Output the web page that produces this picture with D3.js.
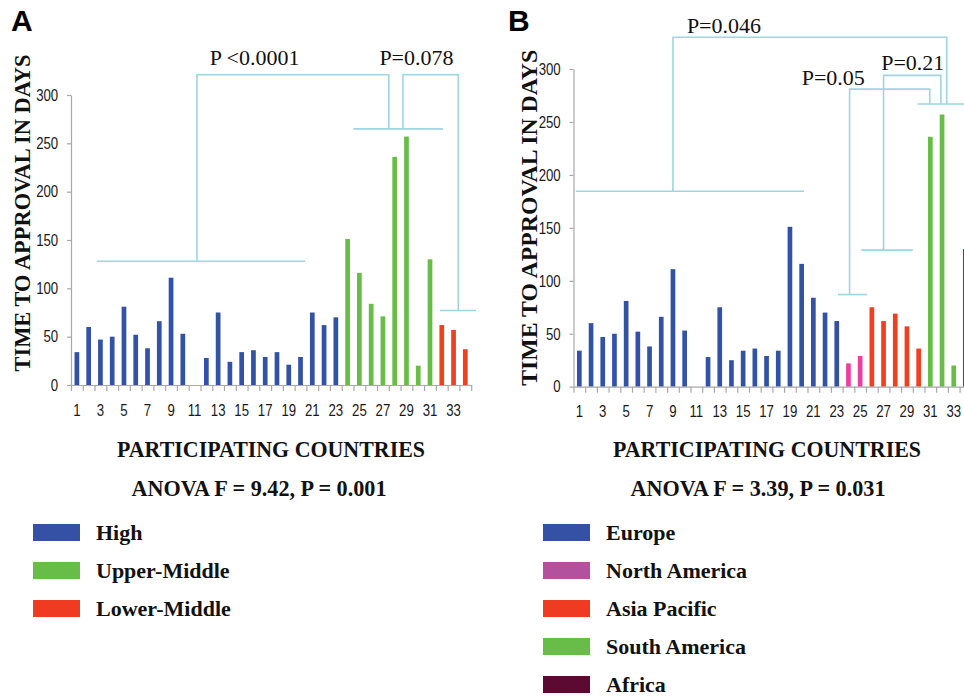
<!DOCTYPE html>
<html>
<head>
<meta charset="utf-8">
<script src="https://cdn.jsdelivr.net/npm/d3@7"></script>
<style>
  html, body { margin: 0; padding: 0; background: #fff; }
  svg { display: block; }
</style>
</head>
<body>
<svg id="chart" width="964" height="700"></svg>
<script>
// ---------------- DATA ----------------
const categories = ["1","2","3","4","5","6","7","8","9","10","11","12","13","14","15","16","17",
  "18","19","20","21","22","23","24","25","26","27","28","29","30","31","32","33","34"];
const xTickLabels = ["1","3","5","7","9","11","13","15","17","19","21","23","25","27","29","31","33"];
const yTickValues = [0, 50, 100, 150, 200, 250, 300];

// Panel A: by income group
const valuesA = [34,60,47,50,81,52,38,66,111,53,0,28,75,24,34,36,29,34,21,29,75,62,70,
  151,116,84,71,236,257,20,130,62,57,37];
const groupsA = ["High","High","High","High","High","High","High","High","High","High","High",
  "High","High","High","High","High","High","High","High","High","High","High","High",
  "Upper-Middle","Upper-Middle","Upper-Middle","Upper-Middle","Upper-Middle","Upper-Middle",
  "Upper-Middle","Upper-Middle","Lower-Middle","Lower-Middle","Lower-Middle"];
const legendA = ["High", "Upper-Middle", "Lower-Middle"];

// Panel B: by region
const valuesB = [34,60,47,50,81,52,38,66,111,53,0,28,75,25,34,36,29,34,151,116,84,70,62,
  22,29,75,62,69,57,36,236,257,20,130];
const groupsB = ["Europe","Europe","Europe","Europe","Europe","Europe","Europe","Europe","Europe",
  "Europe","Europe","Europe","Europe","Europe","Europe","Europe","Europe","Europe","Europe",
  "Europe","Europe","Europe","Europe","North America","North America","Asia Pacific",
  "Asia Pacific","Asia Pacific","Asia Pacific","Asia Pacific","South America","South America",
  "South America","Africa"];
const legendB = ["Europe", "North America", "Asia Pacific", "South America", "Africa"];

// Significance brackets (x in category units from axis start, y in days)
const bracketsA = [
  [[2.2,128],[19.9,128]],
  [[24.0,265],[31.6,265]],
  [[10.7,128],[10.7,321],[27.0,321],[27.0,265]],
  [[28.2,265],[28.2,321],[32.9,321],[32.9,77]],
  [[31.35,77],[34.4,77]]
];
const pLabelsA = [
  {text: "P <0.0001", u: 15.6, v: 331},
  {text: "P=0.078", u: 29.35, v: 331}
];
const bracketsB = [
  [[0.2,184.5],[19.7,184.5]],
  [[29.4,267],[34.5,267]],
  [[8.5,184.5],[8.5,330],[31.9,330],[31.9,267]],
  [[22.6,87],[25.1,87]],
  [[23.6,87],[23.6,281],[30.45,281],[30.45,267]],
  [[24.6,129],[29.0,129]],
  [[26.5,129],[26.5,294],[31.4,294],[31.4,267]]
];
const pLabelsB = [
  {text: "P=0.046", u: 12.86, v: 334},
  {text: "P=0.05", u: 22.2, v: 285},
  {text: "P=0.21", u: 29.0, v: 299}
];

const statA = "ANOVA F = 9.42, P = 0.001";
const statB = "ANOVA F = 3.39, P = 0.031";

// ---------------- STYLES ----------------
const barColor = {
  "High": "#3152a6", "Upper-Middle": "#67bd46", "Lower-Middle": "#f0401f",
  "Europe": "#3152a6", "North America": "#ec3fa0", "Asia Pacific": "#f0401f",
  "South America": "#67bd46", "Africa": "#5e2a1e"
};
const swatchColor = {
  "High": "#3451a5", "Upper-Middle": "#68bd48", "Lower-Middle": "#ee3b22",
  "Europe": "#3451a5", "North America": "#b4519e", "Asia Pacific": "#ee3b22",
  "South America": "#68bd48", "Africa": "#5c0a32"
};
const bracketColor = "#9fd5e1";
const axisColor = "#a8a8a8";
const serif = "'Liberation Serif', 'Times New Roman', serif";
const sans = "'Liberation Sans', Arial, sans-serif";

const svg = d3.select("#chart");

function drawPanel(cfg) {
  const g = svg.append("g");
  const x = d3.scaleBand().domain(categories).range([cfg.left, cfg.right])
    .paddingInner(0.6).paddingOuter(0.3);
  const xu = d3.scaleLinear().domain([0, categories.length]).range([cfg.left, cfg.right]);
  const y = d3.scaleLinear().domain([0, 300]).range([cfg.bottom, cfg.top]);

  // bars
  g.append("g").selectAll("rect").data(cfg.values).join("rect")
    .attr("x", (d, i) => x(categories[i]))
    .attr("width", x.bandwidth())
    .attr("y", d => y(d))
    .attr("height", d => y(0) - y(d))
    .attr("fill", (d, i) => barColor[cfg.groups[i]]);

  // x axis: tick marks at band boundaries
  const xTickAxis = g.append("g").attr("transform", `translate(0,${cfg.bottom})`)
    .call(d3.axisBottom(xu).tickValues(d3.range(0, categories.length + 1))
      .tickSize(6).tickSizeOuter(0).tickFormat(""));
  xTickAxis.selectAll("path, line").attr("stroke", axisColor).attr("stroke-width", 1.2);

  // x labels at category centers
  const xLab = g.append("g").attr("transform", `translate(0,${cfg.bottom})`)
    .call(d3.axisBottom(x).tickValues(xTickLabels).tickSize(0).tickPadding(19));
  xLab.select(".domain").remove();
  xLab.selectAll("text").attr("font-family", sans).attr("font-size", 16.5)
    .attr("fill", "#1a1a1a").attr("transform", "scale(0.8,1)");

  // y axis
  const yAx = g.append("g").attr("transform", `translate(${cfg.left},0)`)
    .call(d3.axisLeft(y).tickValues(yTickValues).tickSize(4).tickSizeOuter(0).tickPadding(12));
  yAx.selectAll("path, line").attr("stroke", axisColor).attr("stroke-width", 1.2);
  yAx.selectAll("text").attr("font-family", sans).attr("font-size", 16.5)
    .attr("fill", "#1a1a1a").attr("transform", "scale(0.8,1)");

  // brackets
  const line = d3.line().x(d => xu(d[0])).y(d => y(d[1]));
  g.append("g").selectAll("path").data(cfg.brackets).join("path")
    .attr("d", line).attr("fill", "none")
    .attr("stroke", bracketColor).attr("stroke-width", 1.6);

  g.append("g").selectAll("text").data(cfg.pLabels).join("text")
    .attr("x", d => xu(d.u)).attr("y", d => y(d.v))
    .attr("text-anchor", "middle").attr("font-family", serif)
    .attr("font-size", 22).attr("fill", "#111").text(d => d.text);

  // titles
  g.append("text")
    .attr("transform", `translate(${cfg.yTitleX},${(cfg.top + cfg.bottom) / 2 + cfg.yTitleDy}) rotate(-90)`)
    .attr("text-anchor", "middle").attr("font-family", serif).attr("font-weight", "bold")
    .attr("font-size", cfg.yTitleSize).attr("fill", "#111")
    .attr("textLength", cfg.yTitleLen).attr("lengthAdjust", "spacingAndGlyphs")
    .text("TIME TO APPROVAL IN DAYS");

  g.append("text").attr("x", cfg.titleCx).attr("y", 457)
    .attr("text-anchor", "middle").attr("font-family", serif).attr("font-weight", "bold")
    .attr("font-size", 24).attr("fill", "#111")
    .attr("textLength", 308).attr("lengthAdjust", "spacingAndGlyphs")
    .text("PARTICIPATING COUNTRIES");

  g.append("text").attr("x", cfg.statCx).attr("y", 496)
    .attr("text-anchor", "middle").attr("font-family", serif).attr("font-weight", "bold")
    .attr("font-size", 24).attr("fill", "#111")
    .attr("textLength", 255).attr("lengthAdjust", "spacingAndGlyphs")
    .text(cfg.stat);

  // panel letter
  g.append("text").attr("x", cfg.letterX).attr("y", 31)
    .attr("font-family", sans).attr("font-weight", "bold")
    .attr("font-size", 30).attr("fill", "#000").text(cfg.letter);

  // legend
  const lg = g.append("g").selectAll("g").data(cfg.legend).join("g")
    .attr("transform", (d, i) => `translate(${cfg.legendX},${524 + i * 38})`);
  lg.append("rect").attr("width", 47).attr("height", 17).attr("fill", d => swatchColor[d]);
  lg.append("text").attr("x", 63).attr("y", 16)
    .attr("font-family", serif).attr("font-weight", "bold").attr("font-size", 22)
    .attr("fill", "#111").text(d => d);
}

drawPanel({
  left: 71, right: 471.2, top: 95, bottom: 385,
  values: valuesA, groups: groupsA, brackets: bracketsA, pLabels: pLabelsA,
  yTitleX: 30, yTitleDy: -27, yTitleSize: 24, yTitleLen: 317,
  titleCx: 271, statCx: 259, stat: statA,
  letter: "A", letterX: 11, legend: legendA, legendX: 33
});

drawPanel({
  left: 573.5, right: 971.3, top: 69, bottom: 386.7,
  values: valuesB, groups: groupsB, brackets: bracketsB, pLabels: pLabelsB,
  yTitleX: 537, yTitleDy: -10, yTitleSize: 24, yTitleLen: 336,
  titleCx: 767, statCx: 758, stat: statB,
  letter: "B", letterX: 508, legend: legendB, legendX: 543
});
</script>
</body>
</html>
